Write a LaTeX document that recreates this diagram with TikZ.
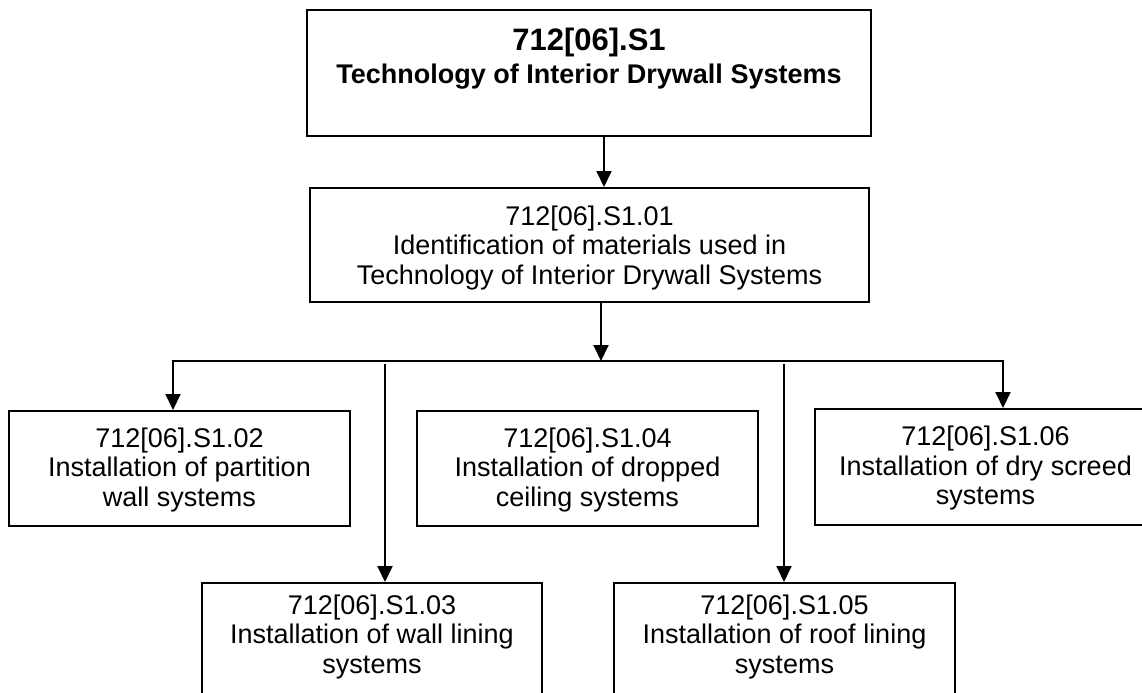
\documentclass[tikz,border=0pt]{standalone}
\usepackage{fontspec}
\setmainfont{Liberation Sans}
\usetikzlibrary{arrows.meta}
\begin{document}
\begin{tikzpicture}[x=0.5pt,y=-0.5pt,
  box/.style={draw=black, line width=1pt, inner sep=0pt},
  txt/.style={inner sep=0pt, align=center, font=\fontsize{13.5}{14.75}\selectfont},
  arr/.style={line width=1pt, -{Triangle[length=8pt,width=7.5pt]}}]
\clip (0,0) rectangle (1142,692);
\fill[white] (0,0) rectangle (1142,692);
% top box
\node[box, minimum width=282pt, minimum height=63pt] (top) at (589,73) {};
\node[txt, font=\bfseries\fontsize{15.5}{17}\selectfont] (topa) at (589,42) {712[06].S1};
\node[txt, font=\bfseries\fontsize{13.5}{14.5}\selectfont] (topb) at (589,77) {Technology of Interior Drywall Systems};
% level 1
\node[box, minimum width=279.5pt, minimum height=57pt] (b1) at (589.5,245) {};
\node[txt] (t1) at (589.5,248)
  {712[06].S1.01\\Identification of materials used in\\Technology of Interior Drywall Systems};
% level 2
\node[box, minimum width=170.5pt, minimum height=57.5pt] (b2) at (179.5,468.5) {};
\node[txt] (t2) at (179.5,470)
  {712[06].S1.02\\Installation of partition\\wall systems};
\node[box, minimum width=170.5pt, minimum height=57.5pt] (b4) at (587.5,468.5) {};
\node[txt] (t4) at (587.5,470)
  {712[06].S1.04\\Installation of dropped\\ceiling systems};
\node[box, minimum width=170.5pt, minimum height=58pt] (b6) at (985.5,467) {};
\node[txt] (t6) at (985.5,468.5)
  {712[06].S1.06\\Installation of dry screed\\systems};
% level 3 (clipped at bottom)
\node[box, anchor=north, minimum width=170pt, minimum height=70pt] (b3) at (372,582) {};
\node[txt] (t3) at (372,637) {712[06].S1.03\\Installation of wall lining\\systems};
\node[box, anchor=north, minimum width=170.5pt, minimum height=70pt] (b5) at (784.5,582) {};
\node[txt] (t5) at (784.5,637) {712[06].S1.05\\Installation of roof lining\\systems};
% connector coordinates
\coordinate (c1) at (604,0);
\coordinate (c2) at (601,361);
\coordinate (busL) at (173,361);
\coordinate (busR) at (1003,361);
\coordinate (c3) at (385,363.5);
\coordinate (c5) at (784,363.5);
% connectors
\draw[arr] (top.south -| c1) -- (b1.north -| c1);
\draw[arr] (b1.south -| c2) -- (c2);
\draw[arr] (c2) -- (busL) -- (b2.north -| busL);
\draw[arr] (c2) -- (busR) -- (b6.north -| busR);
\draw[arr] (c3) -- (b3.north -| c3);
\draw[arr] (c5) -- (b5.north -| c5);
\end{tikzpicture}
\end{document}
